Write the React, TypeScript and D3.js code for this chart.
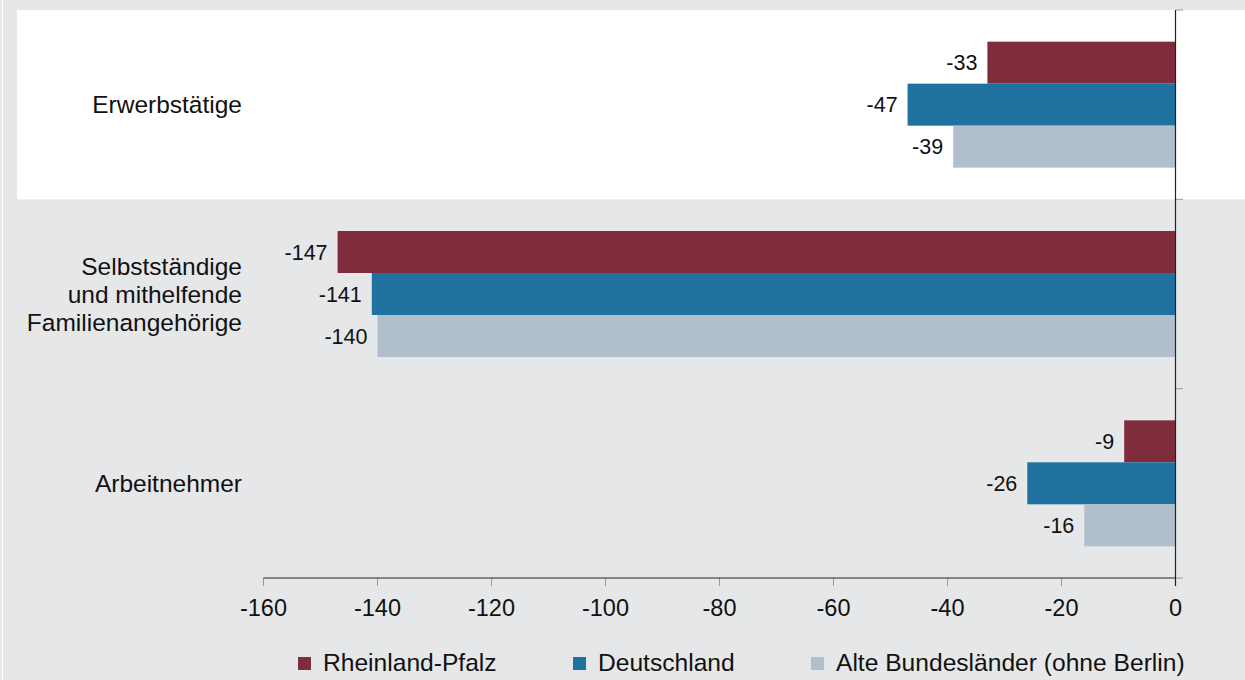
import React from "react";
import * as d3 from "d3";

const categories: string[][] = [
  ["Erwerbstätige"],
  ["Selbstständige", "und mithelfende", "Familienangehörige"],
  ["Arbeitnehmer"],
];
const seriesNames = ["Rheinland-Pfalz", "Deutschland", "Alte Bundesländer (ohne Berlin)"];
const seriesColors = ["#7f2d3c", "#1f71a0", "#b1bfcc"];
const rheinlandPfalz = [-33, -147, -9];
const deutschland = [-47, -141, -26];
const alteBundeslaender = [-39, -140, -16];
const xTicks = [-160, -140, -120, -100, -80, -60, -40, -20, 0];
const legendX = [298, 573, 811];

const W = 1245;
const H = 680;
const FONT = "'Liberation Sans', Arial, sans-serif";

export default function App() {
  const series = [rheinlandPfalz, deutschland, alteBundeslaender];
  const x = d3.scaleLinear().domain([-160, 0]).range([263.5, 1175.5]);
  const y = d3
    .scaleBand<number>()
    .domain(categories.map((_, i) => i))
    .range([10, 578])
    .paddingInner(0)
    .paddingOuter(0);
  const inner = d3
    .scaleBand<number>()
    .domain([0, 1, 2])
    .range([0, y.bandwidth()])
    .paddingInner(0)
    .paddingOuter(0.754);

  return (
    <svg
      width={W}
      height={H}
      style={{ position: "absolute", left: 0, top: 0, display: "block" }}
      fontFamily={FONT}
    >
      <rect x={0} y={0} width={W} height={H} fill="#e6e7e9" />
      <rect x={2} y={0} width={1} height={H} fill="#ffffff" />
      <rect x={17} y={y(0)!} width={W - 17} height={y.bandwidth()} fill="#ffffff" />

      {categories.map((lines, ci) => {
        const cy = y(ci)! + y.bandwidth() / 2;
        const lh = 28;
        const start = cy - ((lines.length - 1) * lh) / 2;
        return (
          <text key={"c" + ci} textAnchor="end" fontSize={24.5} fill="#111">
            {lines.map((l, li) => (
              <tspan key={li} x={242} y={start + li * lh + 8.7}>
                {l}
              </tspan>
            ))}
          </text>
        );
      })}

      {categories.map((_, ci) =>
        series.map((s, si) => {
          const v = s[ci];
          const by = y(ci)! + inner(si)!;
          const bh = inner.bandwidth();
          const x0 = x(v);
          return (
            <g key={`b${ci}-${si}`}>
              <rect x={x0} y={by} width={x(0) - x0} height={bh} fill={seriesColors[si]} />
              <text
                x={x0 - 10}
                y={by + bh / 2 + 7.7}
                textAnchor="end"
                fontSize={21.5}
                fill="#111"
              >
                {v}
              </text>
            </g>
          );
        })
      )}

      {/* category ticks */}
      {[...categories.map((_, i) => y(i)!), 578].map((t, i) => (
        <line key={"ct" + i} x1={1176} x2={1183} y1={t} y2={t} stroke="#9a9a9a" strokeWidth={1} />
      ))}
      {/* x axis ticks */}
      {xTicks.map((t) => (
        <g key={"xt" + t}>
          <line x1={x(t)} x2={x(t)} y1={578} y2={586} stroke="#9a9a9a" strokeWidth={1} />
          <text x={x(t)} y={616} textAnchor="middle" fontSize={23.5} fill="#111">
            {t}
          </text>
        </g>
      ))}
      <line x1={x(-160)} x2={x(0)} y1={578} y2={578} stroke="#222" strokeWidth={1} />
      <line x1={x(0)} x2={x(0)} y1={10} y2={586} stroke="#222" strokeWidth={1.2} />

      {/* legend */}
      {seriesNames.map((n, i) => (
        <g key={"lg" + i}>
          <rect x={legendX[i]} y={657} width={13} height={13} fill={seriesColors[i]} />
          <text x={legendX[i] + 25} y={671} fontSize={24.6} fill="#111">
            {n}
          </text>
        </g>
      ))}
    </svg>
  );
}
